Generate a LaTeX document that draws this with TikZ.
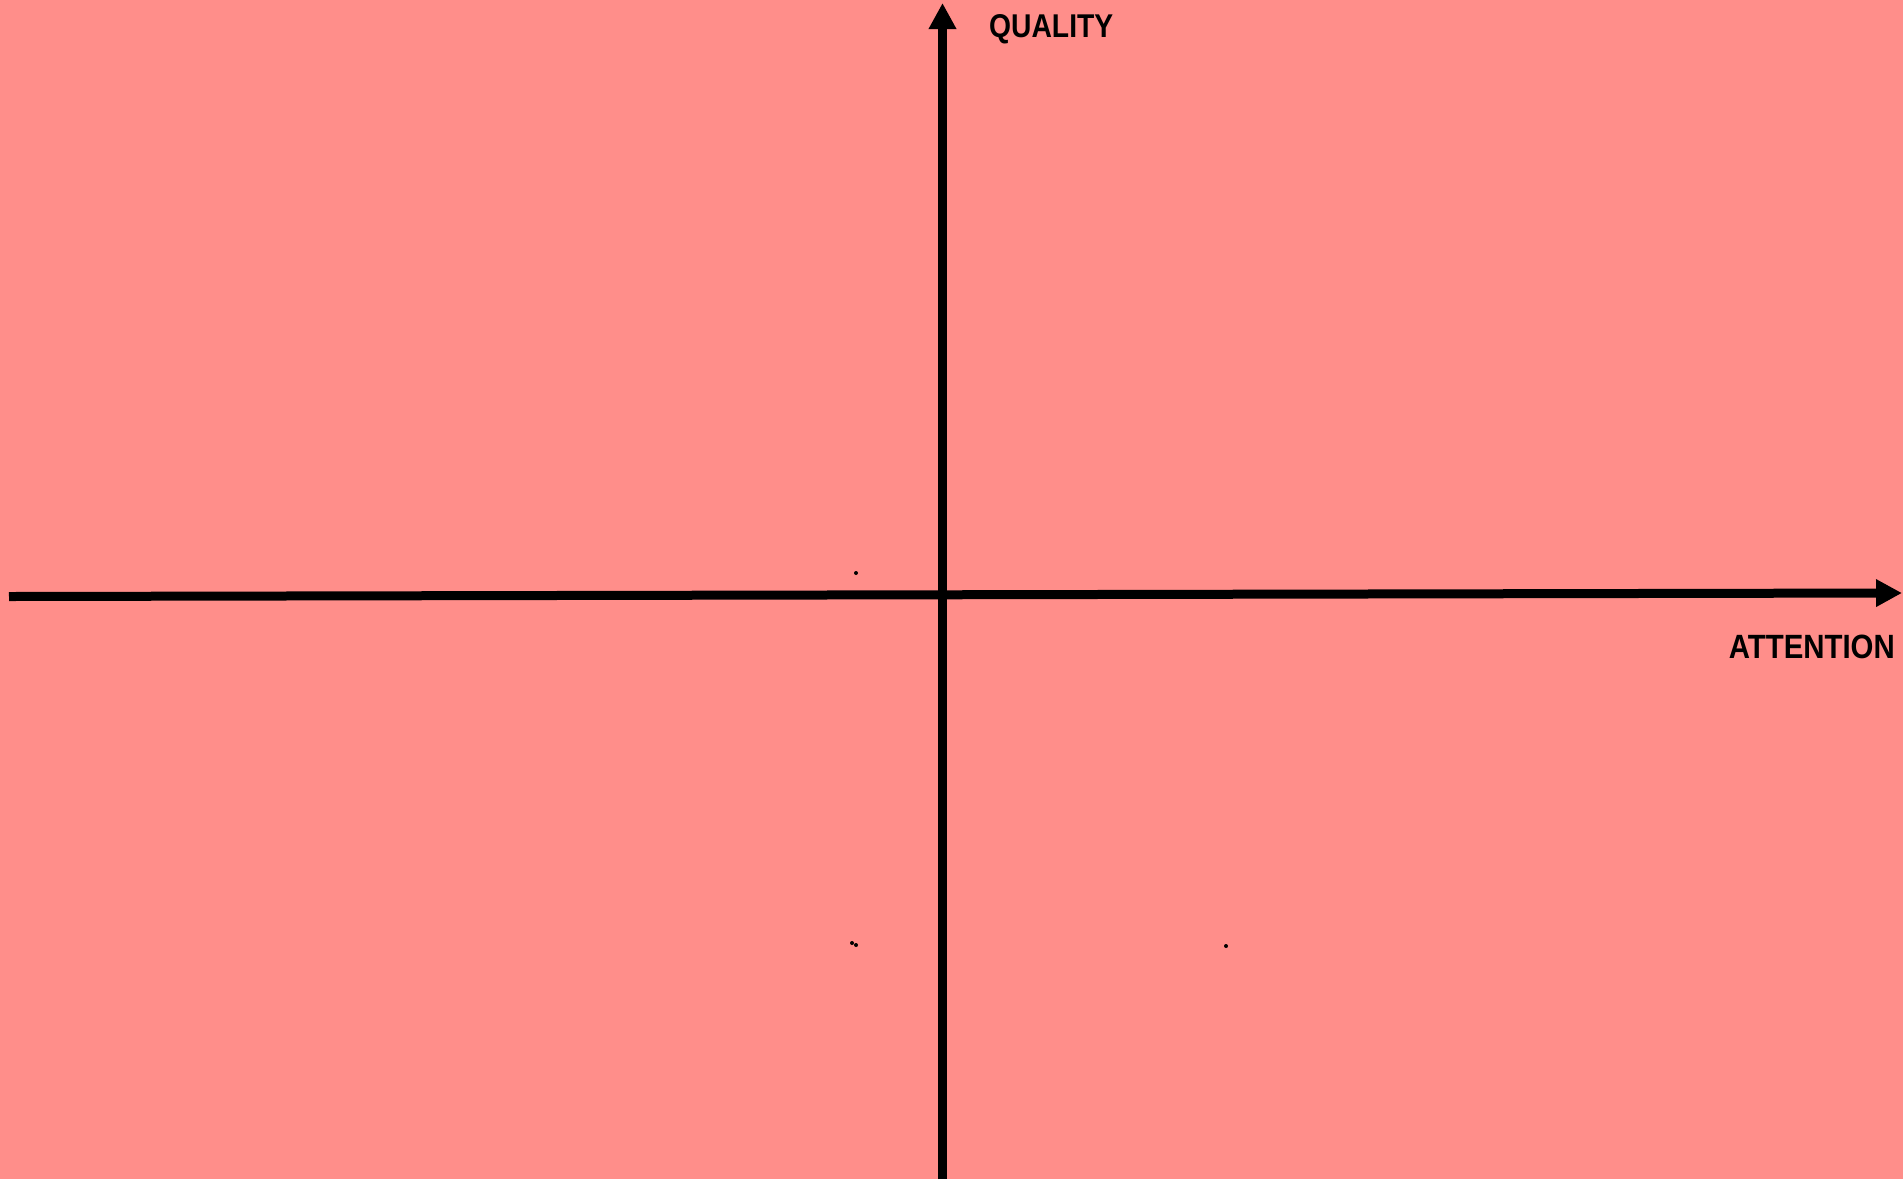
\documentclass[tikz,border=0pt]{standalone}
\usepackage{fontspec}
\setmainfont{Liberation Sans}
\usetikzlibrary{arrows.meta}
\definecolor{bgpink}{RGB}{255,142,138}
\tikzset{
  axis/.style={line width=9pt, draw=black, -{Triangle[length=26pt,width=26pt]}},
  axlabel/.style={font=\fontsize{32pt}{32pt}\selectfont\bfseries, inner sep=0pt, text=black},
  speck/.style={fill=black, circle, inner sep=0pt, minimum size=4pt}
}
\begin{document}
\begin{tikzpicture}[x=1pt,y=-1pt]
  \fill[bgpink] (0,0) rectangle (1903,1179);
  \useasboundingbox (0,0) rectangle (1903,1179);
  \coordinate (ybot) at (942.5,1179);
  \coordinate (ytop) at (942.5,3);
  \coordinate (xleft) at (9,596.5);
  \coordinate (xright) at (1902,593);
  \draw[axis] (xleft) -- (xright);
  \draw[axis] (ybot) -- (ytop);
  \node[axlabel, anchor=base west] (qual) at (989,37) {\resizebox{124pt}{23pt}{QUALITY}};
  \node[axlabel, anchor=base east] (att) at (1895,658) {\resizebox{166pt}{23.5pt}{ATTENTION}};
  \node[speck] (d1) at (856,573) {};
  \node[speck] (d2) at (852,943) {};
  \node[speck] (d3) at (856,945) {};
  \node[speck] (d4) at (1226,946) {};
\end{tikzpicture}
\end{document}
